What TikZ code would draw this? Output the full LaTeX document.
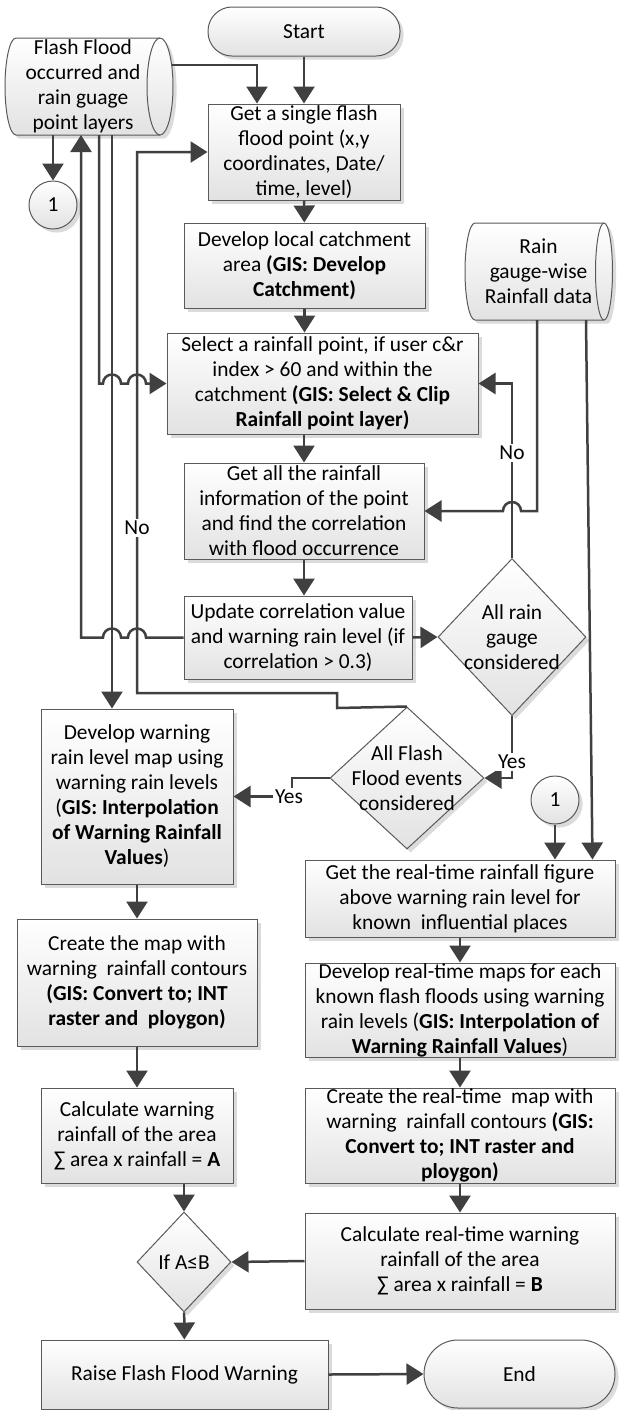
\documentclass[tikz,border=0pt]{standalone}
\usepackage{fontspec}
\setmainfont{Carlito}
\usetikzlibrary{arrows.meta,shapes.geometric,shadows,calc}

\definecolor{edgeline}{HTML}{404040}
\definecolor{boxline}{HTML}{5A5A5A}
\definecolor{shadegray}{HTML}{E2E2E2}

\tikzset{
  wh/.style n args={2}{minimum width=#1*0.5pt, minimum height=#2*0.5pt},
  base/.style={draw=boxline, line width=0.5pt, top color=white, bottom color=shadegray,
    inner sep=0pt, align=center,
    drop shadow={shadow xshift=1.8pt, shadow yshift=-1.8pt, fill=black!14, opacity=1}},
  proc/.style={base, rectangle},
  term/.style={base, rectangle, rounded corners=#1},
  dec/.style={base, diamond},
  onpage/.style={base, circle, minimum size=24pt},
  txt/.style={inner sep=0pt, align=center},
  conn/.style={draw=edgeline, line width=1.25pt},
  arr/.style={conn, -{Triangle[length=8.5pt,width=10.5pt]}},
  lbl/.style={fill=white, inner sep=1pt}
}

\begin{document}
\begin{tikzpicture}[x=0.5pt,y=-0.5pt, font=\fontsize{10.7pt}{12.5pt}\selectfont]

\useasboundingbox (0,0) rectangle (625,1410);

% ---------- data stores ----------
\path[proc] (16,38) -- (160,38)
  arc[start angle=90, end angle=-90, x radius=6.5pt, y radius=24.25pt] -- (16,135)
  arc[start angle=270, end angle=90, x radius=5.5pt, y radius=24.25pt] -- cycle;
\draw[boxline, line width=0.5pt] (160,38)
  arc[start angle=90, end angle=270, x radius=6.5pt, y radius=24.25pt];
\node[txt] (data1) at (83,86.5) {Flash Flood\\occurred and\\rain guage\\point layers};

\path[proc] (475,223) -- (604,223)
  arc[start angle=90, end angle=-90, x radius=4.25pt, y radius=24.25pt] -- (475,320)
  arc[start angle=270, end angle=90, x radius=5pt, y radius=24.25pt] -- cycle;
\draw[boxline, line width=0.5pt] (604,223)
  arc[start angle=90, end angle=270, x radius=4.25pt, y radius=24.25pt];
\node[txt] (rain) at (538.5,271.5) {Rain\\gauge-wise\\Rainfall data};

% ---------- main column ----------
\node[term=12pt, wh={192}{49}] (start) at (304,31.5) {Start};
\node[proc, wh={192}{96}] (get1) at (304,152)
  {Get a single flash\\flood point (x,y\\coordinates, Date/\\time, level)};
\node[proc, wh={241}{85}] (dev1) at (304.5,265.5)
  {Develop local catchment\\area \textbf{(GIS: Develop}\\\textbf{Catchment)}};
\node[proc, wh={311}{101}] (sel) at (322.5,383.5)
  {Select a rainfall point, if user c\&r\\index > 60 and within the\\catchment \textbf{(GIS: Select \& Clip}\\\textbf{Rainfall point layer)}};
\node[proc, wh={240}{96}] (getall) at (304,511)
  {Get all the rainfall\\information of the point\\and find the correlation\\with flood occurrence};
\node[proc, wh={228}{83}] (upd) at (298,637.5)
  {Update correlation value\\and warning rain level (if\\correlation > 0.3)};

\node[dec, wh={148}{157}] (dia1) at (512,637) {};
\node[txt] (dia1t) at (dia1) {All rain\\gauge\\considered};
\node[dec, wh={154}{142}] (dia2) at (407,778) {};
\node[txt] (dia2t) at (dia2) {All Flash\\Flood events\\considered};

% ---------- left column ----------
\node[onpage] (c1) at (53,205) {1};
\node[proc, wh={192}{175}] (devw) at (137,796.5)
  {Develop warning\\rain level map using\\warning rain levels\\(\textbf{GIS: Interpolation}\\\textbf{of Warning Rainfall}\\\textbf{Values})};
\node[proc, wh={240}{127}] (cmap) at (137,982.5)
  {Create the map with\\warning\ \ rainfall contours\\\textbf{(GIS: Convert to; INT}\\\textbf{raster and\ \ ploygon)}};
\node[proc, wh={192}{95}] (calcw) at (137,1135.5)
  {Calculate warning\\rainfall of the area\\∑ area x rainfall = \textbf{A}};
\node[dec, wh={94}{100}] (dia3) at (184,1262) {};
\node[txt] (dia3t) at (dia3) {If A≤B};
\node[proc, wh={287}{69}] (raise) at (184.5,1374.5) {Raise Flash Flood Warning};
\node[term=17pt, wh={191}{68}] (endt) at (519.5,1374) {End};

% ---------- right column ----------
\node[onpage] (c2) at (555,800) {1};
\node[proc, wh={310}{77}] (rt1) at (460,898.5)
  {Get the real-time rainfall figure\\above warning rain level for\\known\ \ influential places};
\node[proc, wh={310}{94}] (rt2) at (460,1010)
  {Develop real-time maps for each\\known flash floods using warning\\rain levels (\textbf{GIS: Interpolation of}\\\textbf{Warning Rainfall Values})};
\node[proc, wh={310}{95}] (rt3) at (460,1135.5) {};
\node[txt] (rt3t) at (rt3)
  {Create the real-time\ \ map with\\warning\ \ rainfall contours \textbf{(GIS:}\\\textbf{Convert to; INT raster and}\\\textbf{ploygon)}};
\node[proc, wh={310}{96}] (rt4) at (460,1261)
  {Calculate real-time warning\\rainfall of the area\\∑ area x rainfall = \textbf{B}};

% ---------- connector end points on the data stores ----------
\coordinate (d1r) at (172,65);
\coordinate (d1a) at (53,135);
\coordinate (d1b) at (81,135);
\coordinate (d1c) at (99,135);
\coordinate (d1d) at (112,135);
\coordinate (r1) at (537,320);
\coordinate (r2) at (586,320);

% ---------- connectors ----------
\draw[arr] (start) -- (get1);
\draw[arr] (d1r) -| ([xshift=-23.5pt]get1.north);
\draw[arr] (get1) -- (dev1);
\draw[arr] (dev1.south) -- (dev1.south |- sel.north);
\draw[arr] (getall.north |- sel.south) -- (getall.north);
\draw[arr] (getall.south) -- (getall.south |- upd.north);
\draw[arr] (upd.east) -- (dia1.west);
\draw[arr] (dia1.north) |- (sel.east);
\draw[arr] (r1) -- (537,511) -- (521,511)
  arc[start angle=0, end angle=180, radius=4.5pt] -- (getall.east);
\draw[arr] (r2) -- ([xshift=-11.5pt]rt1.north east);
\draw[arr] (dia1.south) |- (dia2.east);
\draw[arr] (dia2.north) -- (337,708) -- (337,693) -- (137,693) -- (137,152) -- (get1.west);
\draw[arr] (dia2.west) -- (292,778) -- (292,796.5) -- (devw.east);
\draw[arr] (upd.west) -- (146,637.5)
  arc[start angle=0, end angle=180, radius=4.5pt] -- (121,637.5)
  arc[start angle=0, end angle=180, radius=4.5pt] -- (81,637.5) -- (d1b);
\draw[arr] (d1c) -- (99,383.5) -- (103,383.5)
  arc[start angle=180, end angle=0, radius=4.5pt] -- (128,383.5)
  arc[start angle=180, end angle=0, radius=4.5pt] -- (sel.west);
\draw[arr] (d1d) -- (d1d |- devw.north);
\draw[arr] (d1a) -- (c1);
\draw[arr] (c2) -- (c2.south |- rt1.north);
\draw[arr] (rt1) -- (rt2);
\draw[arr] (rt2) -- (rt3);
\draw[arr] (rt3) -- (rt4);
\draw[arr] (rt4.west) -- (dia3.east);
\draw[arr] (devw) -- (cmap);
\draw[arr] (cmap) -- (calcw);
\draw[arr] (dia3.north |- calcw.south) -- (dia3.north);
\draw[arr] (dia3) -- (raise);
\draw[arr] (raise.east) -- (endt.west);

% ---------- branch labels ----------
\node[lbl] (no1) at (512,453) {No};
\node[lbl] (yes1) at (512,762) {Yes};
\node[lbl] (no2) at (137,528) {No};
\node[lbl] (yes2) at (289,797) {Yes};
\end{tikzpicture}
\end{document}
